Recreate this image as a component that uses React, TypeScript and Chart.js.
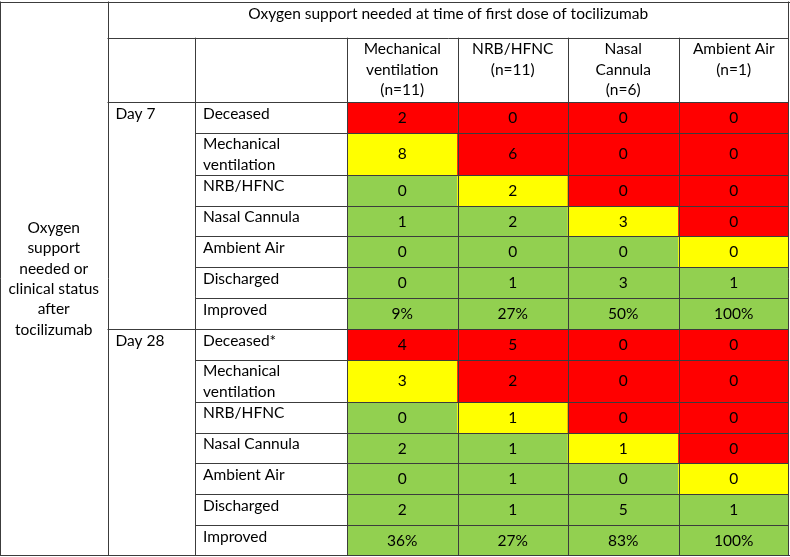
import React, { useEffect, useRef } from "react";
import { Chart, registerables } from "chart.js";

Chart.register(...registerables);

// ---------- data ----------
const TITLE = "Oxygen support needed at time of first dose of tocilizumab";
const SIDE_LABEL = ["Oxygen", "support", "needed or", "clinical status", "after", "tocilizumab"];
const COLUMN_LABELS = [
  ["Mechanical", "ventilation", "(n=11)"],
  ["NRB/HFNC", "(n=11)"],
  ["Nasal", "Cannula", "(n=6)"],
  ["Ambient Air", "(n=1)"],
];
const DAY_LABELS = ["Day 7", "Day 28"];
const DAY7_ROWS = [["Deceased"], ["Mechanical", "ventilation"], ["NRB/HFNC"], ["Nasal Cannula"], ["Ambient Air"], ["Discharged"], ["Improved"]];
const DAY28_ROWS = [["Deceased*"], ["Mechanical", "ventilation"], ["NRB/HFNC"], ["Nasal Cannula"], ["Ambient Air"], ["Discharged"], ["Improved"]];

const DAY7_VALUES = [
  ["2", "0", "0", "0"],
  ["8", "6", "0", "0"],
  ["0", "2", "0", "0"],
  ["1", "2", "3", "0"],
  ["0", "0", "0", "0"],
  ["0", "1", "3", "1"],
  ["9%", "27%", "50%", "100%"],
];
const DAY28_VALUES = [
  ["4", "5", "0", "0"],
  ["3", "2", "0", "0"],
  ["0", "1", "0", "0"],
  ["2", "1", "1", "0"],
  ["0", "1", "0", "0"],
  ["2", "1", "5", "1"],
  ["36%", "27%", "83%", "100%"],
];
// R = worse, Y = same, G = better
const DAY7_STATUS = [
  ["R", "R", "R", "R"],
  ["Y", "R", "R", "R"],
  ["G", "Y", "R", "R"],
  ["G", "G", "Y", "R"],
  ["G", "G", "G", "Y"],
  ["G", "G", "G", "G"],
  ["G", "G", "G", "G"],
];
const DAY28_STATUS = [
  ["R", "R", "R", "R"],
  ["Y", "R", "R", "R"],
  ["G", "Y", "R", "R"],
  ["G", "G", "Y", "R"],
  ["G", "G", "G", "Y"],
  ["G", "G", "G", "G"],
  ["G", "G", "G", "G"],
];

// ---------- styles / layout ----------
const STATUS_COLORS: Record<string, string> = { R: "#FF0000", Y: "#FFFF00", G: "#92D050" };
const FONT = "15.5px Lato";
const LINE_COLOR = "#3c3c3c";
const W = 790;
const H = 557;
const L = {
  top: 1.5,
  bottom: 556,
  right: 789,
  sideCol: 107.5,
  dayCol: 195,
  dataLeft: 347,
  titleBottom: 37.7,
  headerBottom: 102,
  lineH: 20.4,
  textTop: 11.5,
  labelPad: 8,
};
const TALL_UNITS = 1.36;

export default function App() {
  const ref = useRef<HTMLCanvasElement | null>(null);

  useEffect(() => {
    document.body.style.margin = "0";
    const canvas = ref.current;
    if (!canvas) return;

    const rowLabels = [...DAY7_ROWS, ...DAY28_ROWS];
    const values = [...DAY7_VALUES, ...DAY28_VALUES];
    const status = [...DAY7_STATUS, ...DAY28_STATUS];
    const units = rowLabels.map((lab) => (lab.length > 1 ? TALL_UNITS : 1));
    const edges = [0];
    units.forEach((u, i) => edges.push(edges[i] + u));
    const total = edges[edges.length - 1];

    const datasets = values.map((row, r) => ({
      label: rowLabels[r].join(" "),
      data: row.map(() => [edges[r], edges[r + 1]] as [number, number]),
      backgroundColor: status[r].map((s) => STATUS_COLORS[s]),
      borderWidth: 0,
      grouped: false,
      barPercentage: 1,
      categoryPercentage: 1,
    }));

    const tablePlugin = {
      id: "tablePlugin",
      afterDatasetsDraw(chart: any) {
        const ctx = chart.ctx as CanvasRenderingContext2D;
        const ys = chart.scales.y;
        const xs = chart.scales.x;
        const ca = chart.chartArea;
        const colW = (ca.right - ca.left) / COLUMN_LABELS.length;
        const yPix = (v: number) => ys.getPixelForValue(v);
        const al = (v: number) => Math.round(v) + 0.5;

        ctx.save();
        ctx.strokeStyle = LINE_COLOR;
        ctx.lineWidth = 1;
        const hline = (x0: number, x1: number, y: number) => {
          ctx.beginPath();
          ctx.moveTo(x0, al(y));
          ctx.lineTo(x1, al(y));
          ctx.stroke();
        };
        const vline = (x: number, y0: number, y1: number) => {
          ctx.beginPath();
          ctx.moveTo(al(x), y0);
          ctx.lineTo(al(x), y1);
          ctx.stroke();
        };
        const bottom = yPix(total);
        // outer
        hline(0, W, L.top);
        hline(0, W, bottom - 1);
        vline(0, L.top, bottom);
        vline(ca.right - 1, L.top, bottom);
        // header lines
        vline(L.sideCol, L.top, bottom);
        hline(L.sideCol, ca.right, L.titleBottom);
        hline(L.sideCol, ca.right, ca.top);
        vline(L.dayCol, L.titleBottom, bottom);
        for (let c = 0; c < COLUMN_LABELS.length; c++) {
          vline(ca.left + c * colW, L.titleBottom, bottom);
        }
        // row lines
        for (let r = 1; r < rowLabels.length; r++) {
          const x0 = r === DAY7_ROWS.length ? L.sideCol : L.dayCol;
          hline(x0, ca.right, yPix(edges[r]));
        }

        // text
        ctx.fillStyle = "#000";
        ctx.font = FONT;
        ctx.textBaseline = "middle";
        ctx.textAlign = "center";
        ctx.fillText(TITLE, (L.sideCol + ca.right) / 2, L.top + L.textTop + 1);
        const sideMid = (L.top + bottom) / 2;
        SIDE_LABEL.forEach((t, i) => {
          ctx.fillText(t, L.sideCol / 2, sideMid + (i - (SIDE_LABEL.length - 1) / 2) * L.lineH);
        });
        COLUMN_LABELS.forEach((lines, c) => {
          const cx = xs.getPixelForValue(c);
          lines.forEach((t, i) => {
            ctx.fillText(t, cx, L.titleBottom + L.textTop + i * L.lineH);
          });
        });
        // values
        values.forEach((row, r) => {
          const meta = chart.getDatasetMeta(r);
          row.forEach((v, c) => {
            const el = meta.data[c];
            const p = el.getProps(["x", "y", "base"], true);
            ctx.fillText(v, p.x, (p.y + p.base) / 2 + 0.5);
          });
        });
        // row + day labels
        ctx.textAlign = "left";
        ctx.fillText(DAY_LABELS[0], L.sideCol + L.labelPad, yPix(edges[0]) + L.textTop);
        ctx.fillText(DAY_LABELS[1], L.sideCol + L.labelPad, yPix(edges[DAY7_ROWS.length]) + L.textTop);
        rowLabels.forEach((lines, r) => {
          lines.forEach((t, i) => {
            ctx.fillText(t, L.dayCol + L.labelPad, yPix(edges[r]) + L.textTop + i * L.lineH);
          });
        });
        ctx.restore();
      },
    };

    const chart = new Chart(canvas, {
      type: "bar",
      data: { labels: COLUMN_LABELS.map((l) => l.join(" ")), datasets: datasets as any },
      options: {
        animation: false,
        responsive: false,
        devicePixelRatio: 1,
        layout: { padding: { left: L.dataLeft, right: W - L.right, top: L.headerBottom, bottom: H - L.bottom } },
        plugins: { legend: { display: false }, tooltip: { enabled: false } },
        scales: {
          x: { type: "category", display: false, offset: true, grid: { display: false } },
          y: { type: "linear", display: false, reverse: true, min: 0, max: total, grid: { display: false } },
        },
      },
      plugins: [tablePlugin],
    });
    return () => chart.destroy();
  }, []);

  return (
    <div style={{ position: "absolute", left: 0, top: 0, width: W, height: H, background: "#fff" }}>
      <canvas ref={ref} width={W} height={H} style={{ display: "block" }} />
    </div>
  );
}
